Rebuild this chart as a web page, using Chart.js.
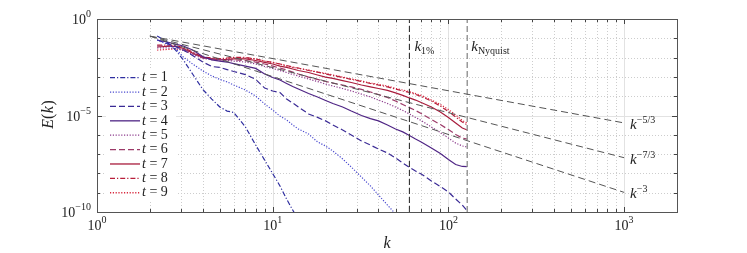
<!DOCTYPE html>
<html><head><meta charset="utf-8">
<script src="https://cdn.jsdelivr.net/npm/chart.js@4.4.1/dist/chart.umd.min.js"></script>
<style>html,body{margin:0;padding:0;background:#fff}canvas{display:block}</style>
</head><body>
<div style="width:747px;height:253px"><canvas id="c" width="747" height="253"></canvas></div>
<script>
// wavenumbers (shared k grid)
const K = [2.2,2.5,2.8,3.1,3.5,4,4.5,5,5.5,6,7,8,9,10,11,12,13,14,16,18,20,22,25,28,32,36,40,45,50,55,60,65,70,80,90,100,110,120,128];
// log10 E(k), one array per time
const logE_t1 = [-0.88,-1.19,-1.61,-2.12,-2.85,-3.65,-4.15,-4.56,-4.77,-4.84,-5.60,-6.53,-7.31,-8.01,-8.65,-9.33,-9.90,-10.41,null,null,null,null,null,null,null,null,null,null,null,null,null,null,null,null,null,null,null,null,null];
const logE_t2 = [-1.09,-1.30,-1.53,-1.97,-2.33,-2.69,-2.95,-3.13,-3.26,-3.42,-3.68,-3.99,-4.40,-4.72,-5.03,-5.23,-5.49,-5.70,-5.96,-6.37,-6.58,-6.84,-7.25,-7.67,-8.19,-8.65,-9.12,-9.64,-10.10,null,null,null,null,null,null,null,null,null,null];
const logE_t3 = [-1.09,-1.27,-1.42,-1.61,-1.89,-2.23,-2.46,-2.51,-2.62,-2.72,-2.88,-3.13,-3.58,-3.73,-3.81,-4.15,-4.35,-4.56,-4.92,-5.10,-5.28,-5.49,-5.75,-6.01,-6.32,-6.53,-6.74,-6.94,-7.20,-7.46,-7.69,-7.88,-8.03,-8.39,-8.68,-8.96,-9.33,-9.64,-9.95];
const logE_t4 = [-1.09,-1.19,-1.30,-1.40,-1.61,-1.94,-2.12,-2.18,-2.23,-2.31,-2.44,-2.56,-2.85,-3.03,-3.16,-3.34,-3.50,-3.63,-3.86,-4.04,-4.22,-4.38,-4.56,-4.77,-5.00,-5.16,-5.28,-5.49,-5.70,-5.85,-6.04,-6.22,-6.37,-6.68,-6.97,-7.28,-7.54,-7.64,-7.65];
const logE_t5 = [-1.50,-1.50,-1.53,-1.63,-1.84,-2.05,-2.10,-2.12,-2.15,-2.18,-2.23,-2.33,-2.46,-2.56,-2.67,-2.77,-2.88,-2.95,-3.11,-3.24,-3.37,-3.47,-3.60,-3.73,-3.89,-4.04,-4.20,-4.38,-4.56,-4.74,-4.92,-5.10,-5.26,-5.60,-5.88,-6.17,-6.43,-6.58,-6.63];
const logE_t6 = [-1.40,-1.40,-1.42,-1.55,-1.79,-2.02,-2.07,-2.10,-2.10,-2.12,-2.15,-2.23,-2.33,-2.44,-2.54,-2.64,-2.75,-2.85,-3.01,-3.13,-3.24,-3.32,-3.42,-3.52,-3.65,-3.78,-3.91,-4.07,-4.25,-4.43,-4.59,-4.74,-4.90,-5.21,-5.47,-5.73,-5.98,-6.17,-6.22];
const logE_t7 = [-1.45,-1.42,-1.42,-1.53,-1.76,-1.99,-2.07,-2.10,-2.10,-2.07,-2.07,-2.15,-2.25,-2.33,-2.44,-2.51,-2.59,-2.67,-2.77,-2.90,-3.01,-3.08,-3.19,-3.29,-3.42,-3.52,-3.60,-3.70,-3.83,-3.96,-4.09,-4.20,-4.33,-4.56,-4.82,-5.10,-5.39,-5.65,-5.75];
const logE_t8 = [-1.35,-1.35,-1.37,-1.48,-1.71,-1.97,-2.02,-2.05,-2.02,-1.99,-1.99,-2.07,-2.18,-2.25,-2.33,-2.41,-2.49,-2.54,-2.67,-2.75,-2.85,-2.93,-3.03,-3.13,-3.24,-3.34,-3.42,-3.52,-3.63,-3.73,-3.81,-3.91,-4.02,-4.25,-4.51,-4.79,-5.08,-5.34,-5.49];
const logE_t9 = [-1.61,-1.58,-1.55,-1.61,-1.79,-1.99,-2.05,-2.07,-2.05,-2.02,-2.02,-2.07,-2.18,-2.25,-2.33,-2.44,-2.51,-2.56,-2.64,-2.75,-2.82,-2.90,-3.01,-3.11,-3.21,-3.32,-3.39,-3.47,-3.60,-3.68,-3.76,-3.86,-3.96,-4.20,-4.43,-4.69,-4.97,-5.26,-5.39];
// power-law guide lines (end points)
const REF_K = [2, 1000];
const REF_53 = [0.13, 4.13e-6];
const REF_73 = [0.13, 6.5e-8];
const REF_3 = [0.13, 1.04e-9];
const REF_LABELS = ['\u22125/3', '\u22127/3', '\u22123'];
// vertical markers
const K_1PCT = 60, K_NYQ = 128;
// tick labels
const X_TICKS = [1, 10, 100, 1000];
const X_EXP = ['0', '1', '2', '3'];
const Y_TICKS = [1, 1e-5, 1e-10];
const Y_EXP = ['0', '\u22125', '\u221210'];
const T_LABELS = ['1','2','3','4','5','6','7','8','9'];

const DD = [5,2,1.2,2], DOT = [1.2,1.6], DASH = [6,3];
const styles = [
  {c:'#2e2ea0', d:DD}, {c:'#4a4ad0', d:DOT}, {c:'#3a2a95', d:DASH},
  {c:'#4f2585', d:[]}, {c:'#8c3a8c', d:DOT}, {c:'#9c3a68', d:DASH},
  {c:'#a81c3c', d:[]}, {c:'#b81e3a', d:DD}, {c:'#d8283e', d:DOT}
];
const allLog = [logE_t1,logE_t2,logE_t3,logE_t4,logE_t5,logE_t6,logE_t7,logE_t8,logE_t9];

const datasets = [];
function refSet(vals){
  return {data: REF_K.map((k,i)=>({x:k,y:vals[i]})), borderColor:'#555', borderWidth:1, borderDash:[7,4], pointRadius:0, fill:false};
}
datasets.push(refSet(REF_53), refSet(REF_73), refSet(REF_3));
datasets.push({data:[{x:K_1PCT,y:1e-10},{x:K_1PCT,y:1}], borderColor:'#333', borderWidth:1.1, borderDash:[6,3], pointRadius:0});
datasets.push({data:[{x:K_NYQ,y:1e-10},{x:K_NYQ,y:1}], borderColor:'#999', borderWidth:1.5, borderDash:[6,3], pointRadius:0});
allLog.forEach((arr,i)=>{
  datasets.push({
    label:'t = '+T_LABELS[i],
    data: K.map((k,j)=>({x:k, y: arr[j]==null ? null : Math.pow(10, arr[j])})),
    borderColor: styles[i].c, borderDash: styles[i].d, borderWidth:1.2,
    pointRadius:0, fill:false, spanGaps:false
  });
});

const SERIF = '"Liberation Serif", "DejaVu Serif", serif';
function powText(ctx, base, exp, x, y, align, bf, ef, rise){
  ctx.font = bf; const wb = ctx.measureText(base).width;
  ctx.font = ef; const we = ctx.measureText(exp).width;
  let x0 = align==='right' ? x-wb-we : align==='center' ? x-(wb+we)/2 : x;
  ctx.textAlign='left'; ctx.textBaseline='alphabetic';
  ctx.font = bf; ctx.fillText(base, x0, y);
  ctx.font = ef; ctx.fillText(exp, x0+wb, y-rise);
}

const deco = {
  id:'deco',
  beforeDatasetsDraw(chart){
    const {ctx, chartArea:a, scales:{x, y}} = chart;
    ctx.save();
    ctx.lineWidth = 1;
    for (let d=0; d<4; d++) for (let m=1; m<=9; m++){
      const v = m*Math.pow(10,d);
      if (v<=1 || v>=2000) continue;
      const px = Math.round(x.getPixelForValue(v))+0.5;
      if (m===1){ ctx.setLineDash([]); ctx.strokeStyle='#e2e2e2'; }
      else { ctx.setLineDash([1,2]); ctx.strokeStyle='#cdcdcd'; }
      ctx.beginPath(); ctx.moveTo(px,a.top); ctx.lineTo(px,a.bottom); ctx.stroke();
    }
    for (let e=-9; e<=-1; e++){
      const py = Math.round(y.getPixelForValue(Math.pow(10,e)))+0.5;
      if (e===-5){ ctx.setLineDash([]); ctx.strokeStyle='#e2e2e2'; }
      else { ctx.setLineDash([1,2]); ctx.strokeStyle='#cdcdcd'; }
      ctx.beginPath(); ctx.moveTo(a.left,py); ctx.lineTo(a.right,py); ctx.stroke();
    }
    ctx.restore();
  },
  afterDatasetsDraw(chart){
    const {ctx, chartArea:a, scales:{x, y}} = chart;
    ctx.save();
    // ticks
    ctx.strokeStyle='#444'; ctx.lineWidth=1; ctx.setLineDash([]);
    for (let d=0; d<4; d++) for (let m=1; m<=9; m++){
      const v = m*Math.pow(10,d);
      if (v<=1 || v>=2000) continue;
      const px = Math.round(x.getPixelForValue(v))+0.5;
      const L = m===1 ? 5 : 3;
      ctx.beginPath(); ctx.moveTo(px,a.bottom); ctx.lineTo(px,a.bottom-L);
      ctx.moveTo(px,a.top); ctx.lineTo(px,a.top+L); ctx.stroke();
    }
    for (let e=-9; e<=-1; e++){
      const py = Math.round(y.getPixelForValue(Math.pow(10,e)))+0.5;
      const L = e===-5 ? 5 : 3;
      ctx.beginPath(); ctx.moveTo(a.left,py); ctx.lineTo(a.left+L,py);
      ctx.moveTo(a.right,py); ctx.lineTo(a.right-L,py); ctx.stroke();
    }
    // box
    ctx.strokeStyle='#555';
    ctx.strokeRect(Math.round(a.left)+0.5, Math.round(a.top)+0.5, Math.round(a.right-a.left), Math.round(a.bottom-a.top));
    // tick labels
    ctx.fillStyle='#222';
    const bf = '14px '+SERIF, ef = '10px '+SERIF;
    X_TICKS.forEach((v,i)=>{ powText(ctx,'10',X_EXP[i],x.getPixelForValue(v),230,'center',bf,ef,7); });
    Y_TICKS.forEach((v,i)=>{ const py=y.getPixelForValue(v); powText(ctx,'10',Y_EXP[i],91,py+5,'right',bf,ef,7); });
    // axis titles
    ctx.font = 'italic 16px '+SERIF; ctx.textAlign='center'; ctx.textBaseline='alphabetic';
    ctx.fillText('k', (a.left+a.right)/2, 248);
    ctx.save(); ctx.translate(53,115); ctx.rotate(-Math.PI/2);
    ctx.font = 'italic 16px '+SERIF; const w1 = ctx.measureText('E').width;
    ctx.font = '16px '+SERIF; const w2 = ctx.measureText('(').width, w4 = ctx.measureText(')').width;
    ctx.font = 'italic 16px '+SERIF; const w3 = ctx.measureText('k').width;
    let sx = -(w1+w2+w3+w4)/2; ctx.textAlign='left';
    ctx.font='italic 16px '+SERIF; ctx.fillText('E',sx,0); sx+=w1;
    ctx.font='16px '+SERIF; ctx.fillText('(',sx,0); sx+=w2;
    ctx.font='italic 16px '+SERIF; ctx.fillText('k',sx+0.5,0); sx+=w3+1;
    ctx.font='16px '+SERIF; ctx.fillText(')',sx,0);
    ctx.restore();
    // reference labels
    const rx = x.getPixelForValue(1000)+6;
    [REF_53, REF_73, REF_3].forEach((r,i)=>{
      const py = y.getPixelForValue(r[1]);
      powText(ctx,'k',REF_LABELS[i],rx,py+6,'left','italic 15px '+SERIF,'10px '+SERIF,6);
    });
    // vertical marker labels
    function subText(base, sub, px, py){
      ctx.textAlign='left';
      ctx.font='italic 15px '+SERIF; ctx.fillText(base,px,py);
      const w = ctx.measureText(base).width;
      ctx.font='10px '+SERIF; ctx.fillText(sub,px+w,py+3);
    }
    subText('k','1%', x.getPixelForValue(K_1PCT)+5, 51);
    subText('k','Nyquist', x.getPixelForValue(K_NYQ)+4, 51);
    // legend
    ctx.fillStyle='#fff';
    ctx.fillRect(106,70,70,130);
    for (let i=0;i<9;i++){
      const ly = 77.7 + i*14.38;
      ctx.strokeStyle=styles[i].c; ctx.lineWidth=1.3; ctx.setLineDash(styles[i].d);
      ctx.beginPath(); ctx.moveTo(110,ly); ctx.lineTo(140,ly); ctx.stroke();
      ctx.setLineDash([]);
      ctx.fillStyle='#222'; ctx.textAlign='left'; ctx.textBaseline='middle';
      ctx.font='italic 14px '+SERIF; ctx.fillText('t',142,ly);
      const wt = ctx.measureText('t').width;
      ctx.font='14px '+SERIF; ctx.fillText(' = '+T_LABELS[i],142+wt,ly);
    }
    ctx.restore();
  }
};

new Chart(document.getElementById('c'), {
  type:'line',
  data:{datasets},
  options:{
    responsive:false, animation:false, devicePixelRatio:1,
    layout:{padding:{left:97,right:70,top:19,bottom:41}},
    plugins:{legend:{display:false}, tooltip:{enabled:false}},
    scales:{
      x:{type:'logarithmic', min:1, max:2000, display:false},
      y:{type:'logarithmic', min:1e-10, max:1, display:false}
    },
    elements:{point:{radius:0}, line:{tension:0}}
  },
  plugins:[deco]
});
</script>
</body></html>
